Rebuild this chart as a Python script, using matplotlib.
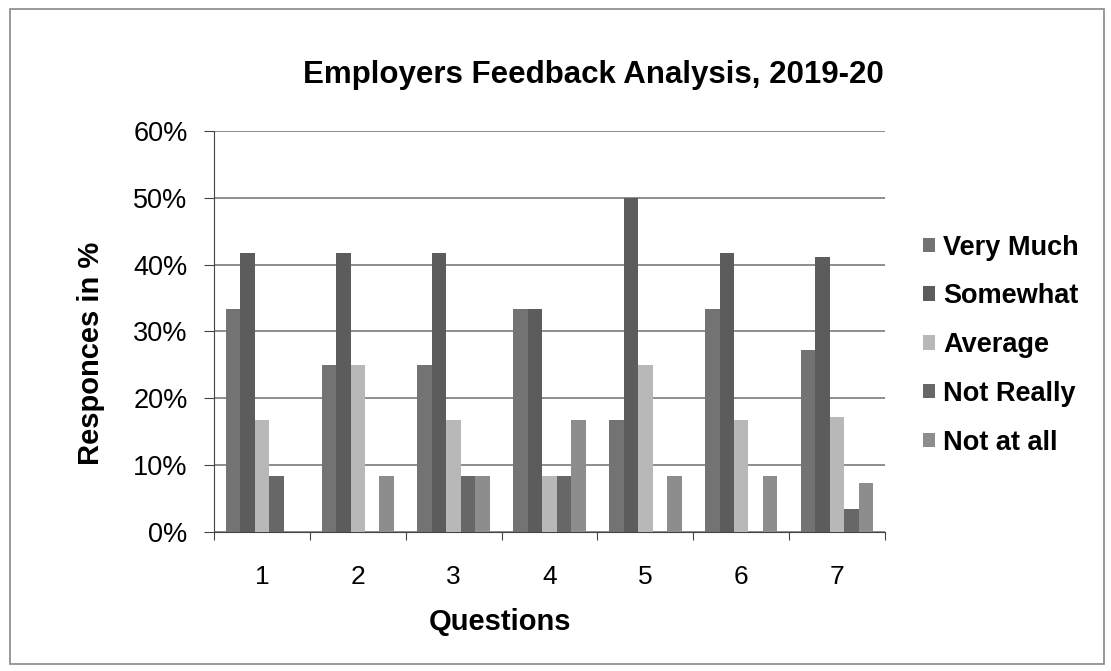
import numpy as np
import matplotlib.pyplot as plt
from matplotlib.patches import Rectangle

plt.rcParams['font.family'] = ['Liberation Sans', 'DejaVu Sans']

# data (percent)
questions = ['1', '2', '3', '4', '5', '6', '7']
series_names = ['Very Much', 'Somewhat', 'Average', 'Not Really', 'Not at all']
very_much = [33.3, 25.0, 25.0, 33.3, 16.7, 33.3, 27.3]
somewhat = [41.7, 41.7, 41.7, 33.3, 50.0, 41.7, 41.2]
average = [16.7, 25.0, 16.7, 8.3, 25.0, 16.7, 17.2]
not_really = [8.3, 0.0, 8.3, 8.3, 0.0, 0.0, 3.4]
not_at_all = [0.0, 8.3, 8.3, 16.7, 8.3, 8.3, 7.3]

colors = ['#737373', '#5c5c5c', '#b8b8b8', '#676767', '#8d8d8d']

fig = plt.figure(figsize=(11.11, 6.71), dpi=100)
ax = fig.add_axes([0.1926, 0.2072, 0.604, 0.5976])

x = np.arange(len(questions))
w = 0.151
all_series = [very_much, somewhat, average, not_really, not_at_all]
for i, (vals, name) in enumerate(zip(all_series, series_names)):
    ax.bar(x + (i - 2) * w, vals, width=w, color=colors[i], label=name, zorder=3)

ax.set_xlim(-0.5, 6.5)
ax.set_ylim(0, 60)
ax.set_yticks(range(0, 61, 10))
ax.set_yticklabels(['{}%'.format(v) for v in range(0, 61, 10)], fontsize=19.5)
ax.yaxis.grid(True, color='#7a7a7a', linewidth=1.2, zorder=0)

ax.set_xticks(np.arange(-0.5, 7, 1))
ax.set_xticklabels([])
ax.set_xticks(x, minor=True)
ax.set_xticklabels(questions, minor=True, fontsize=19)
ax.tick_params(axis='x', which='major', length=6, color='#444444')
ax.tick_params(axis='x', which='minor', length=0, pad=24)
ax.tick_params(axis='y', length=7, color='#444444', pad=12)

for s in ['top', 'right']:
    ax.spines[s].set_visible(False)
ax.spines['left'].set_color('#444444')
ax.spines['bottom'].set_color('#444444')

ax.set_xlabel('Questions', fontsize=21, fontweight='bold')
ax.xaxis.set_label_coords(0.426, -0.19)
ax.set_ylabel('Responces in %', fontsize=21, fontweight='bold')
ax.yaxis.set_label_coords(-0.162, 0.445)
fig.text(0.534, 0.888, 'Employers Feedback Analysis, 2019-20', ha='center', va='center',
         fontsize=22.5, fontweight='bold')

leg = ax.legend(loc='center left', bbox_to_anchor=(1.02, 0.466), frameon=False,
                prop={'weight': 'bold', 'size': 19.5}, handlelength=0.45, handleheight=0.45,
                handletextpad=0.3, labelspacing=0.84)

fig.patches.append(Rectangle((0.009, 0.011), 0.985, 0.975, transform=fig.transFigure,
                             fill=False, edgecolor='#888888', linewidth=1.2))

fig.savefig('out.png', dpi=100)
